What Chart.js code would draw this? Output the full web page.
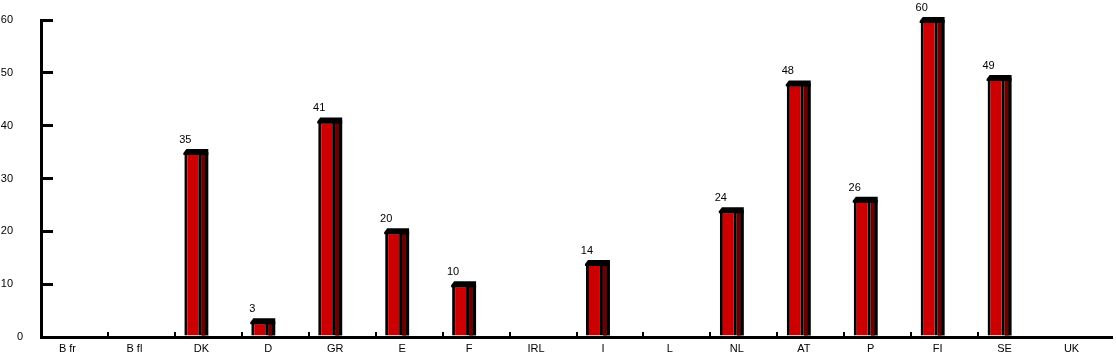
<!DOCTYPE html>
<html><head><meta charset="utf-8">
<script src="https://cdn.jsdelivr.net/npm/chart.js@4/dist/chart.umd.min.js"></script>
<style>html,body{margin:0;padding:0;background:#fff;}#wrap{width:1116px;height:361px;}</style>
</head><body><div id="wrap"><canvas id="c" width="1116" height="361"></canvas></div>
<script>
const categories = ['B fr','B fl','DK','D','GR','E','F','IRL','I','L','NL','AT','P','FI','SE','UK'];
const values = [null,null,35,3,41,20,10,null,14,null,24,48,26,60,49,null];
const spacer = categories.map(() => null);
const yTicks = [0,10,20,30,40,50,60];

Chart.defaults.font.family = '"Liberation Sans", Arial, sans-serif';
Chart.defaults.font.size = 11;
Chart.defaults.color = '#000';

const bar3d = {
  id: 'bar3d',
  afterDatasetsDraw(chart) {
    const ctx = chart.ctx;
    const meta = chart.getDatasetMeta(0);
    meta.data.forEach((bar, i) => {
      const v = values[i];
      if (v == null) return;
      const p = bar.getProps(['x','y','base','width'], true);
      const L = p.x - p.width / 2, R = p.x + p.width / 2, D = 7, y = p.y;
      ctx.save();
      ctx.fillStyle = '#000';
      ctx.fillRect(R, y, D, p.base - y);
      ctx.fillStyle = '#6a0000';
      ctx.fillRect(R, y + 3, D - 3, p.base - y - 3);
      ctx.fillStyle = '#000';
      ctx.beginPath();
      ctx.moveTo(L - 1, y + 1);
      ctx.lineTo(L + 2, y - 3);
      ctx.lineTo(R + D, y - 3);
      ctx.lineTo(R + D, y + 3);
      ctx.lineTo(L - 1, y + 3);
      ctx.closePath();
      ctx.fill();
      ctx.font = '11px "Liberation Sans", Arial, sans-serif';
      ctx.textAlign = 'center';
      ctx.textBaseline = 'alphabetic';
      ctx.fillText(String(v), L + 1, y - 9);
      ctx.restore();
    });
  },
  afterDraw(chart) {
    const ctx = chart.ctx, ys = chart.scales.y;
    ctx.save();
    ctx.font = '11px "Liberation Sans", Arial, sans-serif';
    ctx.fillStyle = '#000';
    ctx.textAlign = 'right';
    ctx.textBaseline = 'middle';
    ctx.fillText(String(yTicks[0]), 23, ys.getPixelForValue(yTicks[0]));
    ctx.restore();
  }
};

new Chart(document.getElementById('c'), {
  type: 'bar',
  data: {
    labels: categories,
    datasets: [
      { data: values, backgroundColor: '#cc0000', borderColor: '#000', borderWidth: 3, borderSkipped: 'bottom' },
      { data: spacer, backgroundColor: 'transparent', borderWidth: 0 }
    ]
  },
  options: {
    responsive: false,
    animation: false,
    devicePixelRatio: 1,
    categoryPercentage: 0.926,
    barPercentage: 0.548,
    layout: { padding: { top: 20, right: 4, left: 0, bottom: 0 } },
    plugins: { legend: { display: false }, tooltip: { enabled: false } },
    scales: {
      x: {
        type: 'category',
        offset: true,
        z: 1,
        border: { display: true, color: '#000', width: 3 },
        grid: {
          display: true, offset: true, drawOnChartArea: false, drawTicks: true,
          tickLength: -5, lineWidth: 2,
          color: (c) => (c.type === 'tick' && c.index >= 1 && c.index < categories.length - 1) ? '#000' : 'rgba(0,0,0,0)'
        },
        ticks: { padding: 10, labelOffset: -7, maxRotation: 0, autoSkip: false },
        afterFit: (s) => { s.height = 24; s.paddingLeft = 0; s.paddingRight = 0; }
      },
      y: {
        min: 0, max: 60,
        border: { display: true, color: '#000', width: 3 },
        grid: { display: true, drawOnChartArea: false, drawTicks: true, tickLength: -12, lineWidth: 3, color: '#000' },
        ticks: { padding: 40, callback: (v) => v === 0 ? '' : String(v) },
        afterBuildTicks: (s) => { s.ticks = yTicks.map(v => ({ value: v })); },
        afterFit: (s) => { s.width = 41; s.paddingTop = 0; s.paddingBottom = 0; }
      }
    }
  },
  plugins: [bar3d]
});
</script>
</body></html>
